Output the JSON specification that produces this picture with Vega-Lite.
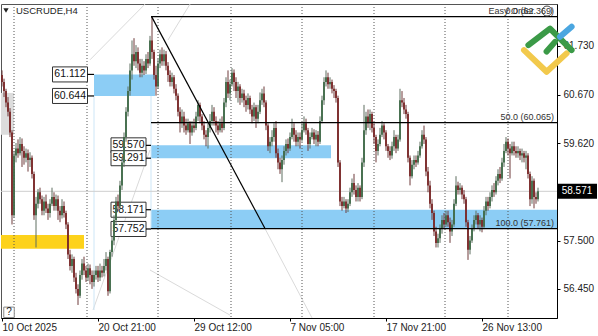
{
"$schema":"https://vega.github.io/schema/vega-lite/v6.json",
"width":556,"height":314,
"autosize":{"type":"none"},
"padding":{"left":1,"top":4,"right":41,"bottom":18},
"background":"white",
"config":{"view":{"stroke":"#555","strokeWidth":1},"font":"Liberation Sans"},
"resolve":{"scale":{"color":"independent"}},
"datasets":{
"candles":[
{"t":0,"o":61.1,"h":61.2,"l":60.85,"c":60.95},{"t":1,"o":60.95,"h":61.02,"l":60.62,"c":60.75},{"t":2,"o":60.75,"h":60.8,"l":60.4,"c":60.5},{"t":3,"o":60.5,"h":60.62,"l":60.2,"c":60.3},{"t":4,"o":60.3,"h":60.38,"l":59.75,"c":59.85},{"t":5,"o":59.85,"h":59.9,"l":57.85,"c":58.05},{"t":6,"o":58.05,"h":59.45,"l":58.0,"c":59.35},{"t":7,"o":59.35,"h":59.62,"l":59.2,"c":59.5},{"t":8,"o":59.5,"h":59.7,"l":59.3,"c":59.4},{"t":9,"o":59.4,"h":59.75,"l":59.35,"c":59.6},
{"t":10,"o":59.6,"h":59.72,"l":59.1,"c":59.45},{"t":11,"o":59.45,"h":59.55,"l":59.15,"c":59.3},{"t":12,"o":59.3,"h":59.5,"l":59.2,"c":59.4},{"t":13,"o":59.4,"h":59.48,"l":59.0,"c":59.25},{"t":14,"o":59.25,"h":59.42,"l":59.1,"c":59.3},{"t":15,"o":59.3,"h":59.35,"l":58.85,"c":58.95},{"t":16,"o":58.95,"h":59.0,"l":57.95,"c":58.05},{"t":17,"o":58.05,"h":58.45,"l":57.35,"c":58.3},{"t":18,"o":58.3,"h":58.62,"l":58.2,"c":58.55},{"t":19,"o":58.55,"h":58.65,"l":58.3,"c":58.4},
{"t":20,"o":58.4,"h":58.48,"l":58.05,"c":58.15},{"t":21,"o":58.15,"h":58.45,"l":58.05,"c":58.35},{"t":22,"o":58.35,"h":58.5,"l":58.1,"c":58.2},{"t":23,"o":58.2,"h":58.3,"l":57.95,"c":58.1},{"t":24,"o":58.1,"h":58.4,"l":58.0,"c":58.3},{"t":25,"o":58.3,"h":58.65,"l":58.25,"c":58.45},{"t":26,"o":58.45,"h":58.55,"l":58.15,"c":58.25},{"t":27,"o":58.25,"h":58.5,"l":58.15,"c":58.4},{"t":28,"o":58.4,"h":58.48,"l":57.95,"c":58.15},{"t":29,"o":58.15,"h":58.25,"l":57.9,"c":58.05},
{"t":30,"o":58.05,"h":58.4,"l":57.98,"c":58.25},{"t":31,"o":58.25,"h":58.35,"l":58.0,"c":58.1},{"t":32,"o":58.1,"h":58.15,"l":57.75,"c":57.85},{"t":33,"o":57.85,"h":57.9,"l":57.1,"c":57.2},{"t":34,"o":57.2,"h":57.3,"l":56.85,"c":56.95},{"t":35,"o":56.95,"h":57.2,"l":56.8,"c":57.1},{"t":36,"o":57.1,"h":57.15,"l":56.6,"c":56.7},{"t":37,"o":56.7,"h":56.8,"l":56.35,"c":56.45},{"t":38,"o":56.45,"h":56.55,"l":56.1,"c":56.3},{"t":39,"o":56.3,"h":56.85,"l":56.25,"c":56.75},
{"t":40,"o":56.75,"h":57.1,"l":56.65,"c":57.0},{"t":41,"o":57.0,"h":57.15,"l":56.75,"c":56.85},{"t":42,"o":56.85,"h":56.95,"l":56.6,"c":56.7},{"t":43,"o":56.7,"h":57.0,"l":56.62,"c":56.9},{"t":44,"o":56.9,"h":56.98,"l":56.55,"c":56.75},{"t":45,"o":56.75,"h":56.85,"l":56.45,"c":56.6},{"t":46,"o":56.6,"h":56.85,"l":56.5,"c":56.75},{"t":47,"o":56.75,"h":56.95,"l":56.65,"c":56.85},{"t":48,"o":56.85,"h":56.95,"l":56.6,"c":56.7},{"t":49,"o":56.7,"h":57.0,"l":56.62,"c":56.85},
{"t":50,"o":56.85,"h":56.95,"l":56.7,"c":56.8},{"t":51,"o":56.8,"h":57.1,"l":56.72,"c":56.95},{"t":52,"o":56.95,"h":57.25,"l":56.85,"c":57.1},{"t":53,"o":57.1,"h":57.15,"l":56.3,"c":56.4},{"t":54,"o":56.4,"h":57.3,"l":56.35,"c":57.25},{"t":55,"o":57.25,"h":57.6,"l":57.15,"c":57.5},{"t":56,"o":57.5,"h":58.05,"l":57.4,"c":57.95},{"t":57,"o":57.95,"h":58.45,"l":57.85,"c":58.35},{"t":58,"o":58.35,"h":58.5,"l":58.15,"c":58.25},{"t":59,"o":58.25,"h":58.8,"l":58.2,"c":58.7},
{"t":60,"o":58.7,"h":59.3,"l":58.6,"c":59.2},{"t":61,"o":59.2,"h":59.85,"l":59.1,"c":59.75},{"t":62,"o":59.75,"h":60.4,"l":59.65,"c":60.3},{"t":63,"o":60.3,"h":60.85,"l":60.2,"c":60.75},{"t":64,"o":60.75,"h":61.35,"l":60.65,"c":61.2},{"t":65,"o":61.2,"h":61.85,"l":61.0,"c":61.55},{"t":66,"o":61.55,"h":61.9,"l":61.3,"c":61.4},{"t":67,"o":61.4,"h":61.75,"l":61.25,"c":61.6},{"t":68,"o":61.6,"h":61.7,"l":61.2,"c":61.35},{"t":69,"o":61.35,"h":61.45,"l":61.05,"c":61.15},
{"t":70,"o":61.15,"h":61.45,"l":61.05,"c":61.3},{"t":71,"o":61.3,"h":61.4,"l":61.1,"c":61.2},{"t":72,"o":61.2,"h":61.55,"l":61.12,"c":61.45},{"t":73,"o":61.45,"h":61.6,"l":61.25,"c":61.35},{"t":74,"o":61.35,"h":61.95,"l":61.3,"c":61.85},{"t":75,"o":61.85,"h":62.37,"l":61.45,"c":61.6},{"t":76,"o":61.6,"h":61.65,"l":61.0,"c":61.1},{"t":77,"o":61.1,"h":61.3,"l":60.65,"c":60.85},{"t":78,"o":60.85,"h":61.45,"l":60.8,"c":61.35},{"t":79,"o":61.35,"h":61.65,"l":61.25,"c":61.55},
{"t":80,"o":61.55,"h":61.7,"l":61.3,"c":61.4},{"t":81,"o":61.4,"h":61.65,"l":61.3,"c":61.55},{"t":82,"o":61.55,"h":61.62,"l":61.2,"c":61.3},{"t":83,"o":61.3,"h":61.38,"l":60.95,"c":61.1},{"t":84,"o":61.1,"h":61.2,"l":60.85,"c":60.95},{"t":85,"o":60.95,"h":61.15,"l":60.85,"c":61.05},{"t":86,"o":61.05,"h":61.1,"l":60.7,"c":60.8},{"t":87,"o":60.8,"h":60.9,"l":60.55,"c":60.65},{"t":88,"o":60.65,"h":60.7,"l":60.2,"c":60.3},{"t":89,"o":60.3,"h":60.4,"l":59.85,"c":60.05},
{"t":90,"o":60.05,"h":60.35,"l":59.95,"c":60.2},{"t":91,"o":60.2,"h":60.3,"l":59.85,"c":60.0},{"t":92,"o":60.0,"h":60.15,"l":59.8,"c":59.9},{"t":93,"o":59.9,"h":60.15,"l":59.85,"c":60.05},{"t":94,"o":60.05,"h":60.1,"l":59.6,"c":59.85},{"t":95,"o":59.85,"h":60.1,"l":59.78,"c":60.0},{"t":96,"o":60.0,"h":60.15,"l":59.85,"c":59.95},{"t":97,"o":59.95,"h":60.3,"l":59.9,"c":60.2},{"t":98,"o":60.2,"h":60.55,"l":60.1,"c":60.45},{"t":99,"o":60.45,"h":60.5,"l":60.05,"c":60.2},
{"t":100,"o":60.2,"h":60.25,"l":59.9,"c":60.0},{"t":101,"o":60.0,"h":60.1,"l":59.7,"c":59.8},{"t":102,"o":59.8,"h":59.9,"l":59.55,"c":59.75},{"t":103,"o":59.75,"h":60.05,"l":59.5,"c":59.95},{"t":104,"o":59.95,"h":60.25,"l":59.85,"c":60.1},{"t":105,"o":60.1,"h":60.45,"l":60.0,"c":60.3},{"t":106,"o":60.3,"h":60.4,"l":60.0,"c":60.1},{"t":107,"o":60.1,"h":60.2,"l":59.85,"c":60.0},{"t":108,"o":60.0,"h":60.1,"l":59.8,"c":59.9},{"t":109,"o":59.9,"h":60.15,"l":59.85,"c":60.05},
{"t":110,"o":60.05,"h":60.2,"l":59.85,"c":59.95},{"t":111,"o":59.95,"h":60.6,"l":59.9,"c":60.5},{"t":112,"o":60.5,"h":61.05,"l":60.4,"c":60.95},{"t":113,"o":60.95,"h":61.2,"l":60.6,"c":60.7},{"t":114,"o":60.7,"h":61.0,"l":60.55,"c":60.9},{"t":115,"o":60.9,"h":61.25,"l":60.85,"c":61.15},{"t":116,"o":61.15,"h":61.22,"l":60.75,"c":60.95},{"t":117,"o":60.95,"h":61.05,"l":60.6,"c":60.75},{"t":118,"o":60.75,"h":60.95,"l":60.5,"c":60.85},{"t":119,"o":60.85,"h":60.9,"l":60.45,"c":60.6},
{"t":120,"o":60.6,"h":60.8,"l":60.5,"c":60.7},{"t":121,"o":60.7,"h":60.78,"l":60.4,"c":60.55},{"t":122,"o":60.55,"h":60.65,"l":60.3,"c":60.45},{"t":123,"o":60.45,"h":60.7,"l":60.35,"c":60.6},{"t":124,"o":60.6,"h":60.65,"l":60.25,"c":60.35},{"t":125,"o":60.35,"h":60.45,"l":60.05,"c":60.2},{"t":126,"o":60.2,"h":60.5,"l":60.1,"c":60.4},{"t":127,"o":60.4,"h":60.45,"l":59.95,"c":60.15},{"t":128,"o":60.15,"h":60.45,"l":60.05,"c":60.3},{"t":129,"o":60.3,"h":60.72,"l":60.25,"c":60.55},
{"t":130,"o":60.55,"h":60.8,"l":60.45,"c":60.7},{"t":131,"o":60.7,"h":60.85,"l":60.4,"c":60.5},{"t":132,"o":60.5,"h":60.55,"l":59.9,"c":60.0},{"t":133,"o":60.0,"h":60.05,"l":59.45,"c":59.55},{"t":134,"o":59.55,"h":59.75,"l":59.4,"c":59.65},{"t":135,"o":59.65,"h":59.9,"l":59.55,"c":59.75},{"t":136,"o":59.75,"h":60.05,"l":59.65,"c":59.95},{"t":137,"o":59.95,"h":60.1,"l":59.3,"c":59.4},{"t":138,"o":59.4,"h":59.5,"l":59.05,"c":59.2},{"t":139,"o":59.2,"h":59.3,"l":58.95,"c":59.05},
{"t":140,"o":59.05,"h":59.35,"l":58.77,"c":59.25},{"t":141,"o":59.25,"h":59.55,"l":59.15,"c":59.45},{"t":142,"o":59.45,"h":59.7,"l":59.35,"c":59.6},{"t":143,"o":59.6,"h":59.72,"l":59.4,"c":59.5},{"t":144,"o":59.5,"h":59.85,"l":59.45,"c":59.75},{"t":145,"o":59.75,"h":60.15,"l":59.7,"c":59.95},{"t":146,"o":59.95,"h":60.05,"l":59.65,"c":59.8},{"t":147,"o":59.8,"h":59.9,"l":59.55,"c":59.65},{"t":148,"o":59.65,"h":59.85,"l":59.55,"c":59.75},{"t":149,"o":59.75,"h":59.85,"l":59.5,"c":59.7},
{"t":150,"o":59.7,"h":60.05,"l":59.65,"c":59.9},{"t":151,"o":59.9,"h":60.2,"l":59.85,"c":60.05},{"t":152,"o":60.05,"h":60.15,"l":59.8,"c":59.9},{"t":153,"o":59.9,"h":59.95,"l":59.45,"c":59.6},{"t":154,"o":59.6,"h":59.85,"l":59.5,"c":59.75},{"t":155,"o":59.75,"h":59.95,"l":59.7,"c":59.85},{"t":156,"o":59.85,"h":59.92,"l":59.6,"c":59.7},{"t":157,"o":59.7,"h":59.9,"l":59.55,"c":59.8},{"t":158,"o":59.8,"h":59.88,"l":59.55,"c":59.65},{"t":159,"o":59.65,"h":60.2,"l":59.6,"c":60.1},
{"t":160,"o":60.1,"h":60.65,"l":60.05,"c":60.55},{"t":161,"o":60.55,"h":61.05,"l":60.45,"c":60.95},{"t":162,"o":60.95,"h":61.2,"l":60.85,"c":61.05},{"t":163,"o":61.05,"h":61.15,"l":60.8,"c":60.9},{"t":164,"o":60.9,"h":61.05,"l":60.8,"c":60.95},{"t":165,"o":60.95,"h":61.0,"l":60.7,"c":60.8},{"t":166,"o":60.8,"h":60.88,"l":60.6,"c":60.75},{"t":167,"o":60.75,"h":60.8,"l":60.5,"c":60.6},{"t":168,"o":60.6,"h":60.65,"l":59.1,"c":59.2},{"t":169,"o":59.2,"h":59.25,"l":58.25,"c":58.35},
{"t":170,"o":58.35,"h":58.45,"l":58.15,"c":58.25},{"t":171,"o":58.25,"h":58.45,"l":58.2,"c":58.35},{"t":172,"o":58.35,"h":58.4,"l":58.1,"c":58.2},{"t":173,"o":58.2,"h":58.4,"l":58.12,"c":58.3},{"t":174,"o":58.3,"h":58.65,"l":58.25,"c":58.55},{"t":175,"o":58.55,"h":58.85,"l":58.45,"c":58.75},{"t":176,"o":58.75,"h":58.95,"l":58.5,"c":58.6},{"t":177,"o":58.6,"h":58.7,"l":58.35,"c":58.45},{"t":178,"o":58.45,"h":58.75,"l":58.35,"c":58.65},{"t":179,"o":58.65,"h":58.7,"l":58.35,"c":58.45},
{"t":180,"o":58.45,"h":59.3,"l":58.4,"c":59.2},{"t":181,"o":59.2,"h":60.45,"l":59.1,"c":59.9},{"t":182,"o":59.9,"h":60.3,"l":59.8,"c":60.2},{"t":183,"o":60.2,"h":60.35,"l":59.95,"c":60.05},{"t":184,"o":60.05,"h":60.35,"l":59.9,"c":60.25},{"t":185,"o":60.25,"h":60.3,"l":59.85,"c":59.95},{"t":186,"o":59.95,"h":60.05,"l":59.6,"c":59.75},{"t":187,"o":59.75,"h":59.8,"l":59.2,"c":59.45},{"t":188,"o":59.45,"h":59.7,"l":59.35,"c":59.6},{"t":189,"o":59.6,"h":59.95,"l":59.55,"c":59.8},
{"t":190,"o":59.8,"h":60.1,"l":59.75,"c":60.0},{"t":191,"o":60.0,"h":60.05,"l":59.7,"c":59.85},{"t":192,"o":59.85,"h":59.9,"l":59.45,"c":59.55},{"t":193,"o":59.55,"h":59.6,"l":59.3,"c":59.45},{"t":194,"o":59.45,"h":59.55,"l":59.25,"c":59.35},{"t":195,"o":59.35,"h":59.65,"l":59.28,"c":59.55},{"t":196,"o":59.55,"h":59.9,"l":59.45,"c":59.75},{"t":197,"o":59.75,"h":59.8,"l":59.4,"c":59.5},{"t":198,"o":59.5,"h":59.8,"l":59.45,"c":59.7},{"t":199,"o":59.7,"h":60.8,"l":59.65,"c":60.55},
{"t":200,"o":60.55,"h":60.75,"l":60.4,"c":60.5},{"t":201,"o":60.5,"h":60.6,"l":60.25,"c":60.35},{"t":202,"o":60.35,"h":60.45,"l":60.15,"c":60.25},{"t":203,"o":60.25,"h":60.3,"l":59.2,"c":59.3},{"t":204,"o":59.3,"h":59.35,"l":58.7,"c":58.9},{"t":205,"o":58.9,"h":59.25,"l":58.85,"c":59.15},{"t":206,"o":59.15,"h":59.35,"l":59.05,"c":59.25},{"t":207,"o":59.25,"h":59.35,"l":59.1,"c":59.2},{"t":208,"o":59.2,"h":59.45,"l":59.15,"c":59.35},{"t":209,"o":59.35,"h":59.65,"l":59.3,"c":59.55},
{"t":210,"o":59.55,"h":59.9,"l":59.5,"c":59.8},{"t":211,"o":59.8,"h":60.0,"l":59.6,"c":59.7},{"t":212,"o":59.7,"h":59.75,"l":58.9,"c":59.0},{"t":213,"o":59.0,"h":59.1,"l":58.55,"c":58.7},{"t":214,"o":58.7,"h":58.8,"l":58.2,"c":58.3},{"t":215,"o":58.3,"h":58.4,"l":57.95,"c":58.1},{"t":216,"o":58.1,"h":58.15,"l":57.6,"c":57.7},{"t":217,"o":57.7,"h":57.8,"l":57.35,"c":57.45},{"t":218,"o":57.45,"h":57.65,"l":57.35,"c":57.55},{"t":219,"o":57.55,"h":57.85,"l":57.45,"c":57.75},
{"t":220,"o":57.75,"h":58.05,"l":57.65,"c":57.95},{"t":221,"o":57.95,"h":58.1,"l":57.75,"c":57.85},{"t":222,"o":57.85,"h":58.15,"l":57.8,"c":58.05},{"t":223,"o":58.05,"h":58.15,"l":57.8,"c":57.9},{"t":224,"o":57.9,"h":58.0,"l":57.45,"c":57.7},{"t":225,"o":57.7,"h":57.95,"l":57.6,"c":57.85},{"t":226,"o":57.85,"h":58.4,"l":57.8,"c":58.3},{"t":227,"o":58.3,"h":58.9,"l":58.25,"c":58.7},{"t":228,"o":58.7,"h":58.78,"l":58.5,"c":58.6},{"t":229,"o":58.6,"h":58.75,"l":58.5,"c":58.65},
{"t":230,"o":58.65,"h":58.7,"l":58.4,"c":58.5},{"t":231,"o":58.5,"h":58.6,"l":58.3,"c":58.4},{"t":232,"o":58.4,"h":58.45,"l":57.8,"c":57.9},{"t":233,"o":57.9,"h":57.95,"l":57.08,"c":57.3},{"t":234,"o":57.3,"h":57.6,"l":57.2,"c":57.5},{"t":235,"o":57.5,"h":57.85,"l":57.45,"c":57.75},{"t":236,"o":57.75,"h":58.05,"l":57.7,"c":57.95},{"t":237,"o":57.95,"h":58.15,"l":57.85,"c":58.05},{"t":238,"o":58.05,"h":58.1,"l":57.75,"c":57.85},{"t":239,"o":57.85,"h":58.05,"l":57.7,"c":57.95},
{"t":240,"o":57.95,"h":58.0,"l":57.68,"c":57.8},{"t":241,"o":57.8,"h":58.25,"l":57.75,"c":58.15},{"t":242,"o":58.15,"h":58.45,"l":58.05,"c":58.35},{"t":243,"o":58.35,"h":58.45,"l":58.15,"c":58.25},{"t":244,"o":58.25,"h":58.55,"l":58.2,"c":58.45},{"t":245,"o":58.45,"h":58.7,"l":58.35,"c":58.6},{"t":246,"o":58.6,"h":58.75,"l":58.45,"c":58.55},{"t":247,"o":58.55,"h":58.9,"l":58.5,"c":58.8},{"t":248,"o":58.8,"h":59.05,"l":58.7,"c":58.95},{"t":249,"o":58.95,"h":59.1,"l":58.75,"c":58.85},
{"t":250,"o":58.85,"h":59.3,"l":58.8,"c":59.2},{"t":251,"o":59.2,"h":59.6,"l":59.1,"c":59.45},{"t":252,"o":59.45,"h":59.75,"l":59.4,"c":59.65},{"t":253,"o":59.65,"h":59.72,"l":59.35,"c":59.5},{"t":254,"o":59.5,"h":59.6,"l":58.85,"c":59.4},{"t":255,"o":59.4,"h":59.65,"l":59.35,"c":59.55},{"t":256,"o":59.55,"h":59.65,"l":59.35,"c":59.45},{"t":257,"o":59.45,"h":59.55,"l":59.3,"c":59.4},{"t":258,"o":59.4,"h":59.55,"l":59.3,"c":59.45},{"t":259,"o":59.45,"h":59.5,"l":59.25,"c":59.35},
{"t":260,"o":59.35,"h":59.5,"l":59.2,"c":59.4},{"t":261,"o":59.4,"h":59.45,"l":59.2,"c":59.3},{"t":262,"o":59.3,"h":59.45,"l":59.05,"c":59.35},{"t":263,"o":59.35,"h":59.4,"l":58.85,"c":58.95},{"t":264,"o":58.95,"h":59.0,"l":58.25,"c":58.4},{"t":265,"o":58.4,"h":58.9,"l":58.3,"c":58.8},{"t":266,"o":58.8,"h":58.85,"l":58.2,"c":58.45},{"t":267,"o":58.45,"h":58.55,"l":58.3,"c":58.4},{"t":268,"o":58.4,"h":58.65,"l":58.35,"c":58.571}
],
"zones":[
{"k":"gray","t1":-0.5,"t2":6,"p1":59.8,"p2":60.71},
{"k":"yellow","t1":-0.5,"t2":41,"p1":57.32,"p2":57.62},
{"k":"blue","t1":46,"t2":76.5,"p1":60.644,"p2":61.112},
{"k":"blue","t1":74.5,"t2":164.5,"p1":59.291,"p2":59.57},
{"k":"blue","t1":74.5,"t2":277.5,"p1":57.752,"p2":58.171}
],
"faint":[
{"k":"g","t1":44,"p1":61.43,"t2":71.5,"p2":62.64},
{"k":"g","t1":45.5,"p1":55.99,"t2":74,"p2":59.47},
{"k":"g","t1":74,"p1":56.86,"t2":114,"p2":55.88},
{"k":"g","t1":131.5,"p1":57.76,"t2":155,"p2":55.82},
{"k":"g","t1":83,"p1":61.86,"t2":94,"p2":62.64},
{"k":"e","t1":46,"p1":60.644,"t2":46,"p2":55.99},
{"k":"e","t1":74.5,"p1":60.644,"t2":74.5,"p2":57.752}
],
"vgrid":[{"t":6},{"t":42.5},{"t":78},{"t":114.5},{"t":150},{"t":186},{"t":221.5},{"t":253}],
"lines":[
{"t1":74.5,"p1":62.369,"t2":277.5,"p2":62.369},
{"t1":74.5,"p1":60.065,"t2":277.5,"p2":60.065},
{"t1":74.5,"p1":57.761,"t2":277.5,"p2":57.761},
{"t1":74.8,"p1":62.369,"t2":131.5,"p2":57.761},
{"t1":42.75,"p1":61.112,"t2":46,"p2":61.112},
{"t1":42.75,"p1":60.644,"t2":46,"p2":60.644},
{"t1":72,"p1":59.57,"t2":74.5,"p2":59.57},
{"t1":72,"p1":59.291,"t2":74.5,"p2":59.291},
{"t1":72,"p1":58.171,"t2":74.5,"p2":58.171},
{"t1":72,"p1":57.752,"t2":74.5,"p2":57.752}
],
"boxes":[
{"t":34,"p":61.112,"txt":"61.112"},
{"t":34,"p":60.644,"txt":"60.644"},
{"t":63.25,"p":59.57,"txt":"59.570"},
{"t":63.25,"p":59.291,"txt":"59.291"},
{"t":63.25,"p":58.171,"txt":"58.171"},
{"t":63.25,"p":57.752,"txt":"57.752"}
],
"fibtxt":[
{"t":276,"p":62.369,"txt":"0.0 (62.369)"},
{"t":276,"p":60.065,"txt":"50.0 (60.065)"},
{"t":276,"p":57.761,"txt":"100.0 (57.761)"}
],
"logo":[
{"g":"y","t":261,"p":61.64},{"g":"y","t":272.3,"p":61.17},{"g":"y","t":282.3,"p":61.57},
{"g":"g1","t":263.2,"p":61.75},{"g":"g1","t":274,"p":62.11},{"g":"g1","t":284.8,"p":61.64},
{"g":"g2","t":272.3,"p":61.61},{"g":"g2","t":276.5,"p":61.82},
{"g":"b","t":279,"p":61.93},{"g":"b","t":284.8,"p":62.15}
]
},
"layer":[
{"data":{"name":"zones"},"mark":{"type":"rect"},
 "encoding":{
  "x":{"field":"t1","type":"quantitative","title":null,"scale":{"domain":[-0.5,277.5],"nice":false,"zero":false}},
  "x2":{"field":"t2"},
  "y":{"field":"p1","type":"quantitative","title":null,"scale":{"domain":[55.817,62.643],"nice":false,"zero":false}},
  "y2":{"field":"p2"},
  "color":{"field":"k","type":"nominal","scale":{"domain":["gray","yellow","blue"],"range":["#dcdcdc","#fdd21b","#8ccdf5"]},"legend":null}
 }},
{"data":{"name":"faint"},"mark":{"type":"rule","strokeWidth":1},
 "encoding":{
  "x":{"field":"t1","type":"quantitative","title":null,"scale":{"domain":[-0.5,277.5],"nice":false,"zero":false}},
  "x2":{"field":"t2"},
  "y":{"field":"p1","type":"quantitative","title":null,"scale":{"domain":[55.817,62.643],"nice":false,"zero":false}},
  "y2":{"field":"p2"},
  "color":{"field":"k","type":"nominal","scale":{"domain":["g","e"],"range":["#dadada","#cde6f7"]},"legend":null}
 }},
{"data":{"name":"vgrid"},"mark":{"type":"rule","color":"#555","strokeWidth":1,"strokeDash":[1,2]},
 "encoding":{"x":{"field":"t","type":"quantitative","title":null,"scale":{"domain":[-0.5,277.5],"nice":false,"zero":false}}}},
{"data":{"values":[{"p":58.571}]},"mark":{"type":"rule","color":"#cfcfcf","strokeWidth":1},
 "encoding":{"y":{"field":"p","type":"quantitative","title":null,"scale":{"domain":[55.817,62.643],"nice":false,"zero":false}}}},
{"data":{"name":"boxes"},"mark":{"type":"point","shape":"M-1,-0.43H1V0.43H-1Z","size":1225,"filled":true,"fill":"white","stroke":"#333","strokeWidth":1,"opacity":1},
 "encoding":{
  "x":{"field":"t","type":"quantitative","title":null,"scale":{"domain":[-0.5,277.5],"nice":false,"zero":false}},
  "y":{"field":"p","type":"quantitative","title":null,"scale":{"domain":[55.817,62.643],"nice":false,"zero":false}}
 }},
{"data":{"name":"boxes"},"mark":{"type":"text","fontSize":10.5,"font":"Liberation Sans","color":"#111","align":"center","baseline":"middle"},
 "encoding":{
  "x":{"field":"t","type":"quantitative","title":null,"scale":{"domain":[-0.5,277.5],"nice":false,"zero":false}},
  "y":{"field":"p","type":"quantitative","title":null,"scale":{"domain":[55.817,62.643],"nice":false,"zero":false}},
  "text":{"field":"txt"}
 }},
{"data":{"name":"candles"},"mark":{"type":"rule","strokeWidth":1},
 "encoding":{
  "x":{"field":"t","type":"quantitative","title":null,"scale":{"domain":[-0.5,277.5],"nice":false,"zero":false},
   "axis":{"values":[0,48,96,144,192,240],"labelExpr":"datum.value==0?'10 Oct 2025':datum.value==48?'20 Oct 21:00':datum.value==96?'29 Oct 12:00':datum.value==144?'7 Nov 05:00':datum.value==192?'17 Nov 21:00':'26 Nov 13:00'","labelAlign":"left","labelFontSize":10,"labelFont":"Liberation Sans","labelColor":"#222","tickSize":3,"labelPadding":1,"domainColor":"#000","tickColor":"#000","grid":false,"title":null,"labelFlush":false,"labelOverlap":false,"zindex":1}},
  "y":{"field":"l","type":"quantitative","title":null,"scale":{"domain":[55.817,62.643],"nice":false,"zero":false},
   "axis":{"orient":"right","values":[56.45,57.5,59.62,60.67,61.73],"format":".3f","labelFontSize":10,"labelFont":"Liberation Sans","labelColor":"#222","tickSize":3,"labelPadding":3,"domainColor":"#000","tickColor":"#000","grid":false,"title":null,"zindex":0}},
  "y2":{"field":"h"},
  "color":{"condition":{"test":"datum.c >= datum.o","value":"#5f6f60"},"value":"#6e3a3a"}
 }},
{"data":{"name":"candles"},"mark":{"type":"rule","strokeWidth":1.8},
 "encoding":{
  "x":{"field":"t","type":"quantitative","title":null,"scale":{"domain":[-0.5,277.5],"nice":false,"zero":false}},
  "y":{"field":"o","type":"quantitative","title":null,"scale":{"domain":[55.817,62.643],"nice":false,"zero":false}},
  "y2":{"field":"c"},
  "color":{"condition":{"test":"datum.c >= datum.o","value":"#3f6a48"},"value":"#7a2727"}
 }},
{"data":{"name":"lines"},"mark":{"type":"rule","color":"#000","strokeWidth":1.2},
 "encoding":{
  "x":{"field":"t1","type":"quantitative","title":null,"scale":{"domain":[-0.5,277.5],"nice":false,"zero":false}},
  "x2":{"field":"t2"},
  "y":{"field":"p1","type":"quantitative","title":null,"scale":{"domain":[55.817,62.643],"nice":false,"zero":false}},
  "y2":{"field":"p2"}
 }},
{"data":{"name":"fibtxt"},"mark":{"type":"text","fontSize":9,"font":"Liberation Sans","color":"#333","align":"right","baseline":"bottom","dy":-1},
 "encoding":{
  "x":{"field":"t","type":"quantitative","title":null,"scale":{"domain":[-0.5,277.5],"nice":false,"zero":false}},
  "y":{"field":"p","type":"quantitative","title":null,"scale":{"domain":[55.817,62.643],"nice":false,"zero":false}},
  "text":{"field":"txt"}
 }},
{"data":{"values":[{"t":7,"p":62.49,"txt":"USCRUDE,H4"}]},"mark":{"type":"text","fontSize":9.5,"font":"Liberation Sans","color":"#222","align":"left","baseline":"middle"},
 "encoding":{
  "x":{"field":"t","type":"quantitative","title":null,"scale":{"domain":[-0.5,277.5],"nice":false,"zero":false}},
  "y":{"field":"p","type":"quantitative","title":null,"scale":{"domain":[55.817,62.643],"nice":false,"zero":false}},
  "text":{"field":"txt"}
 }},
{"data":{"values":[{"t":266,"p":62.49,"txt":"Easy Order"}]},"mark":{"type":"text","fontSize":9,"font":"Liberation Sans","color":"#333","align":"right","baseline":"middle"},
 "encoding":{
  "x":{"field":"t","type":"quantitative","title":null,"scale":{"domain":[-0.5,277.5],"nice":false,"zero":false}},
  "y":{"field":"p","type":"quantitative","title":null,"scale":{"domain":[55.817,62.643],"nice":false,"zero":false}},
  "text":{"field":"txt"}
 }},
{"data":{"values":[{"t":272.5,"p":62.49}]},"mark":{"type":"point","shape":"circle","size":100,"filled":false,"stroke":"#444","strokeWidth":1,"opacity":1},
 "encoding":{
  "x":{"field":"t","type":"quantitative","title":null,"scale":{"domain":[-0.5,277.5],"nice":false,"zero":false}},
  "y":{"field":"p","type":"quantitative","title":null,"scale":{"domain":[55.817,62.643],"nice":false,"zero":false}}
 }},
{"data":{"values":[{"t":2,"p":62.5}]},"mark":{"type":"point","shape":"triangle-down","size":28,"filled":true,"fill":"#222","opacity":1},
 "encoding":{
  "x":{"field":"t","type":"quantitative","title":null,"scale":{"domain":[-0.5,277.5],"nice":false,"zero":false}},
  "y":{"field":"p","type":"quantitative","title":null,"scale":{"domain":[55.817,62.643],"nice":false,"zero":false}}
 }},
{"data":{"values":[{"t":3.5,"p":55.94}]},"mark":{"type":"point","shape":"square","size":110,"filled":true,"fill":"white","stroke":"#888","strokeWidth":1,"opacity":1},
 "encoding":{
  "x":{"field":"t","type":"quantitative","title":null,"scale":{"domain":[-0.5,277.5],"nice":false,"zero":false}},
  "y":{"field":"p","type":"quantitative","title":null,"scale":{"domain":[55.817,62.643],"nice":false,"zero":false}}
 }},
{"data":{"values":[{"t":3.5,"p":55.94,"txt":"?"}]},"mark":{"type":"text","fontSize":10,"font":"Liberation Sans","color":"#222","align":"center","baseline":"middle"},
 "encoding":{
  "x":{"field":"t","type":"quantitative","title":null,"scale":{"domain":[-0.5,277.5],"nice":false,"zero":false}},
  "y":{"field":"p","type":"quantitative","title":null,"scale":{"domain":[55.817,62.643],"nice":false,"zero":false}},
  "text":{"field":"txt"}
 }},
{"data":{"values":[{"t":287.5,"p":58.571}]},"mark":{"type":"point","shape":"M-1,-0.375H1V0.375H-1Z","size":1600,"filled":true,"fill":"#000","opacity":1},
 "encoding":{
  "x":{"field":"t","type":"quantitative","title":null,"scale":{"domain":[-0.5,277.5],"nice":false,"zero":false}},
  "y":{"field":"p","type":"quantitative","title":null,"scale":{"domain":[55.817,62.643],"nice":false,"zero":false}}
 }},
{"data":{"values":[{"t":287.5,"p":58.571,"txt":"58.571"}]},"mark":{"type":"text","fontSize":10,"font":"Liberation Sans","color":"#fff","align":"center","baseline":"middle"},
 "encoding":{
  "x":{"field":"t","type":"quantitative","title":null,"scale":{"domain":[-0.5,277.5],"nice":false,"zero":false}},
  "y":{"field":"p","type":"quantitative","title":null,"scale":{"domain":[55.817,62.643],"nice":false,"zero":false}},
  "text":{"field":"txt"}
 }},
{"data":{"name":"logo"},"mark":{"type":"line","strokeWidth":6,"strokeCap":"round","strokeJoin":"round"},
 "encoding":{
  "x":{"field":"t","type":"quantitative","title":null,"scale":{"domain":[-0.5,277.5],"nice":false,"zero":false}},
  "y":{"field":"p","type":"quantitative","title":null,"scale":{"domain":[55.817,62.643],"nice":false,"zero":false}},
  "detail":{"field":"g"},
  "color":{"field":"g","type":"nominal","scale":{"domain":["y","g1","g2","b"],"range":["#f2c94c","#3b9a47","#3b9a47","#4aa6e0"]},"legend":null}
 }}
]
}
